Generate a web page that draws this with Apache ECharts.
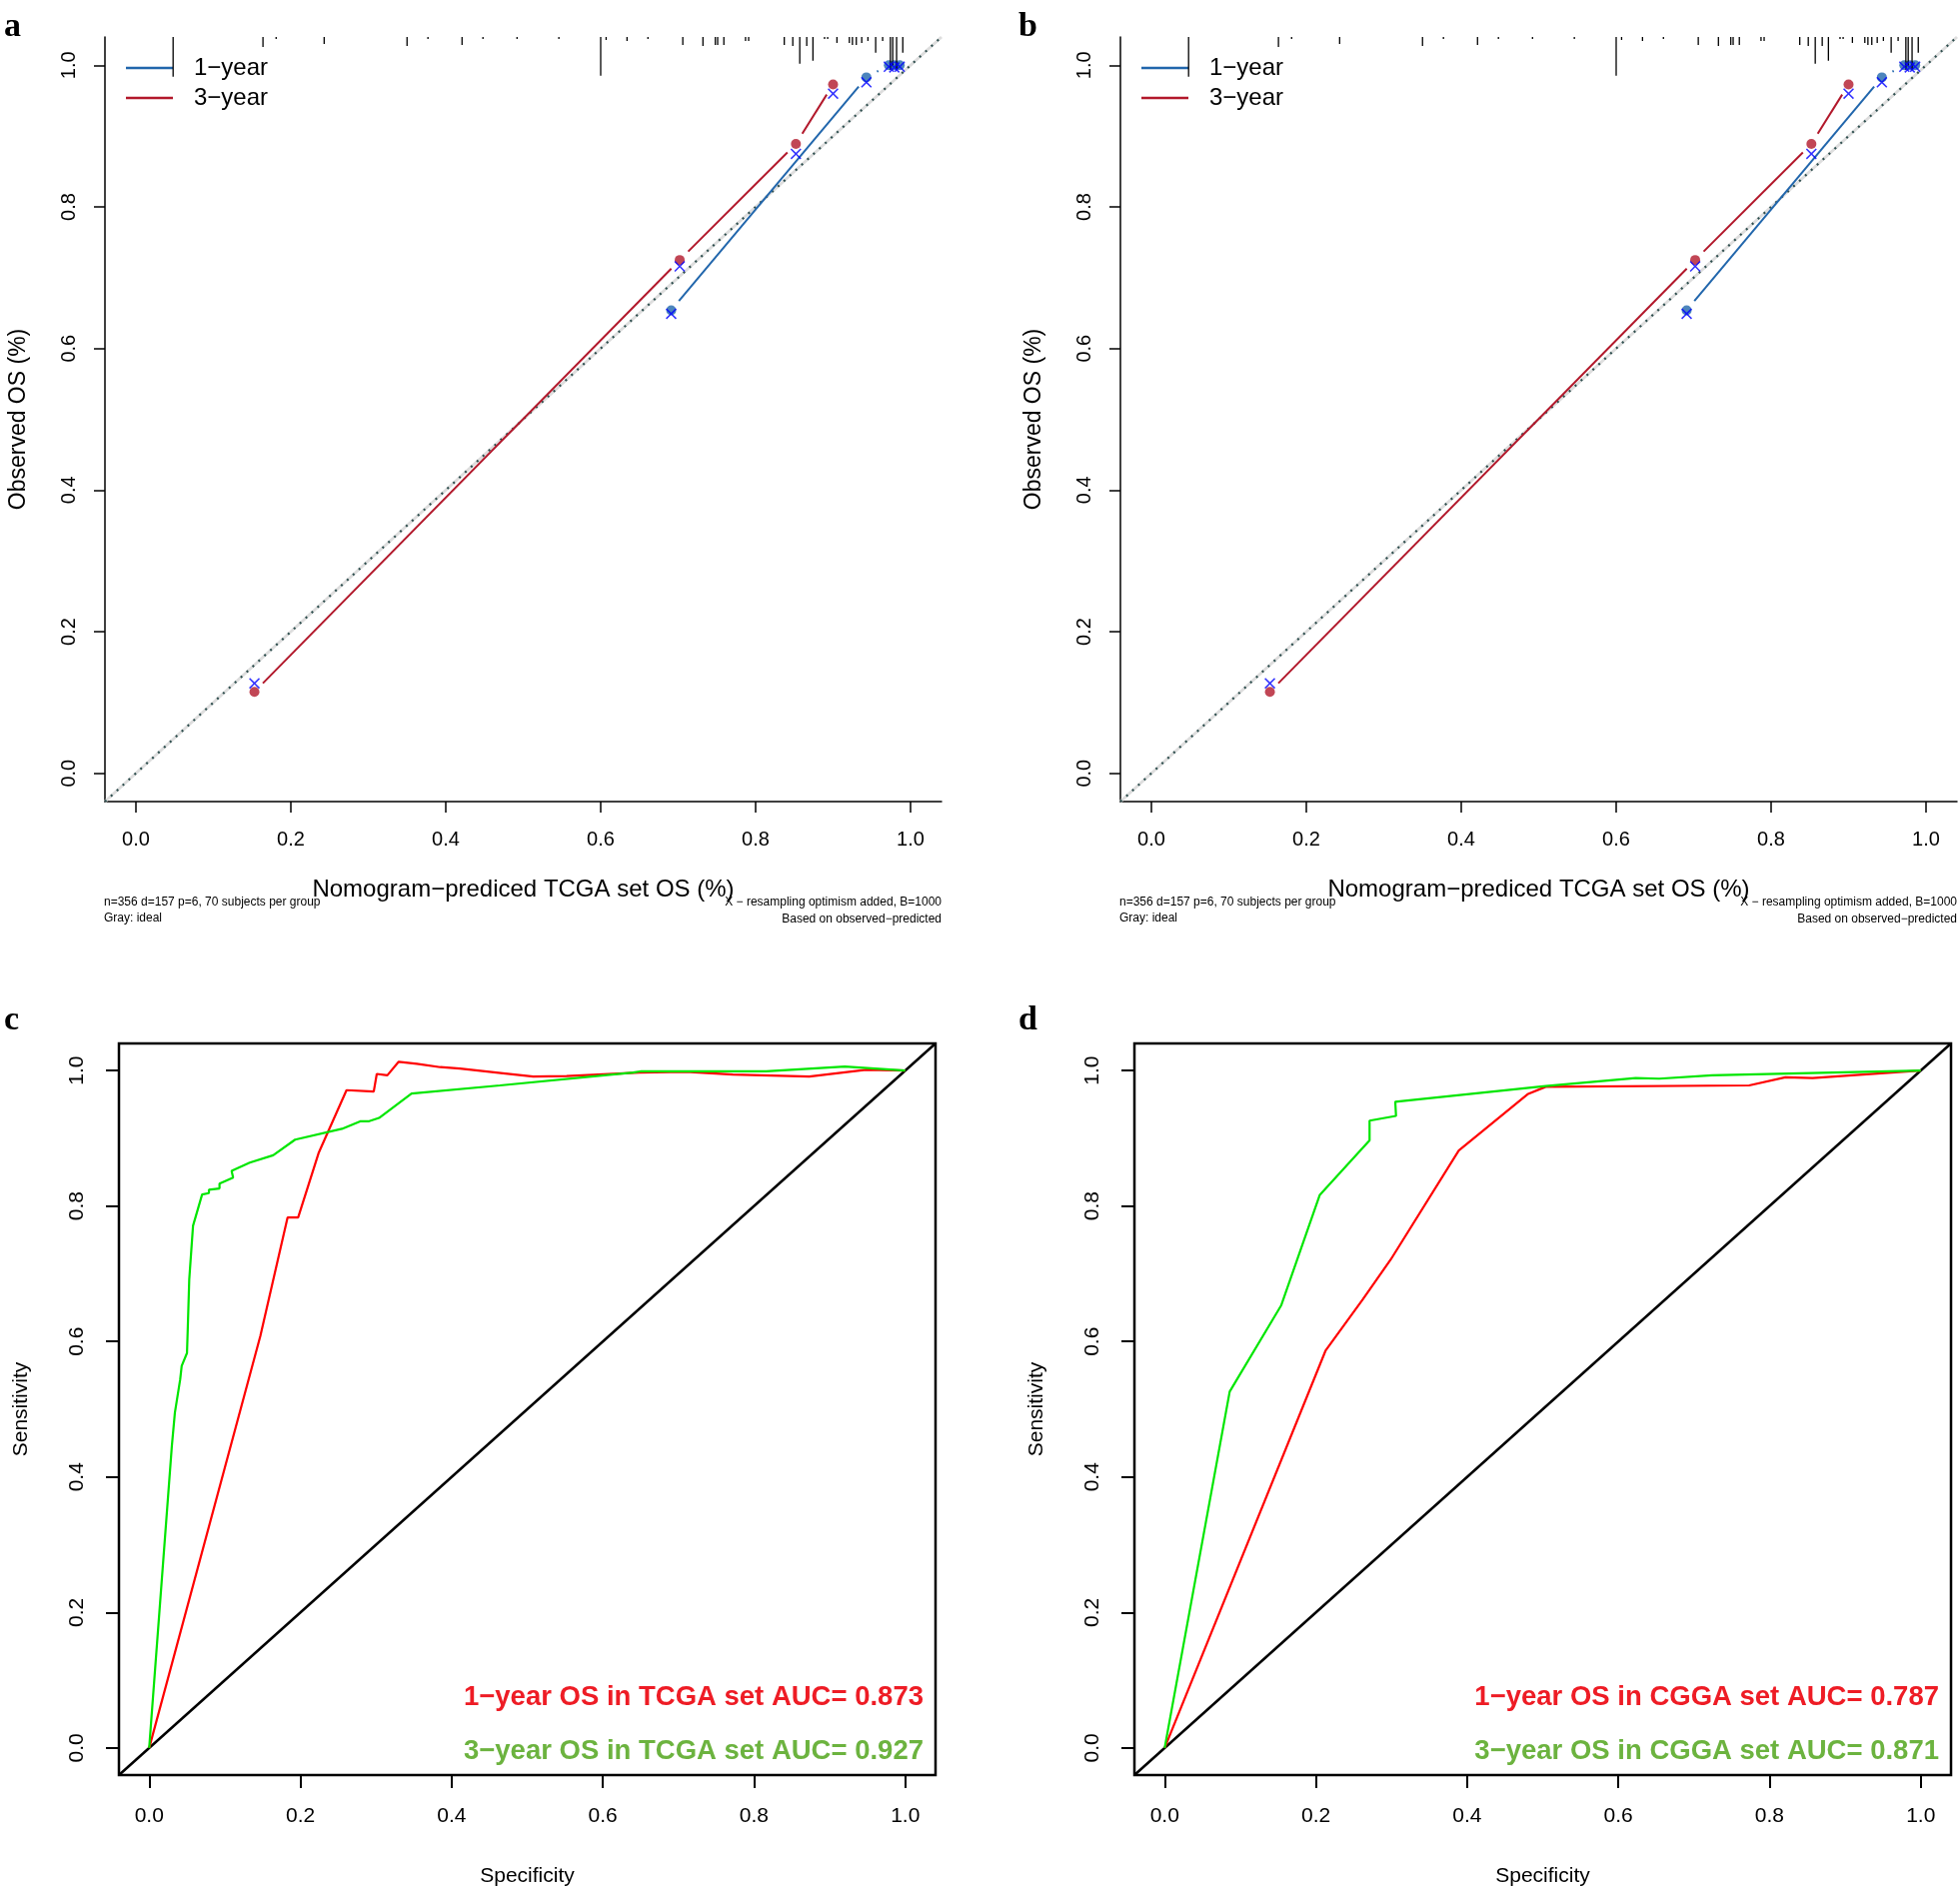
<!DOCTYPE html>
<html>
<head>
<meta charset="utf-8">
<title>Nomogram calibration and ROC</title>
<script src="https://cdn.jsdelivr.net/npm/echarts@6/dist/echarts.min.js"></script>
<style>
html, body { margin: 0; padding: 0; background: #fff; }
#chartArea { width: 1961px; height: 1891px; }
</style>
</head>
<body>
<div id="chartArea"></div>
<script>
const FONT = '"Liberation Sans", Arial, sans-serif';
const AXIS_MIN = -0.04;
const AXIS_MAX = 1.04;
const GAP = 12;         // R type="b" gap round the points, px
const RUG_SPAN = 0.056; // tallest spike, in y units

let tickValues = [0, 0.2, 0.4, 0.6, 0.8, 1.0];
let tickLabels = ['0.0', '0.2', '0.4', '0.6', '0.8', '1.0'];

// calibration, 1-year (blue)
let cal1Pred = [0.691, 0.943, 0.972, 0.979, 0.986];
let cal1Obs = [0.654, 0.983, 1.000, 1.000, 1.000];
let cal1Corr = [0.649, 0.976, 0.998, 0.997, 0.998];
// calibration, 3-year (red)
let cal3Pred = [0.153, 0.702, 0.852, 0.900];
let cal3Obs = [0.115, 0.725, 0.889, 0.973];
let cal3Corr = [0.127, 0.716, 0.875, 0.960];

// spike histogram of predicted values along the top
let rugX = [0.048, 0.164, 0.181, 0.243, 0.350, 0.377, 0.421, 0.448, 0.492, 0.546, 0.600, 0.607,
    0.634, 0.661, 0.706, 0.732, 0.748, 0.751, 0.759, 0.787, 0.791, 0.837, 0.848, 0.857, 0.866,
    0.874, 0.889, 0.893, 0.905, 0.921, 0.925, 0.930, 0.937, 0.945, 0.955, 0.964, 0.974, 0.977,
    0.982, 0.990];
let rugFreq = [40, 10, 2, 7, 9, 2, 8, 2, 2, 2, 39, 3,
    4, 2, 8, 9, 8, 8, 8, 4, 4, 8, 9, 27, 9,
    24, 2, 2, 6, 6, 8, 8, 6, 4, 16, 4, 33, 29,
    33, 16];

// ROC, TCGA
let tcga1X = [0, 0.147, 0.183, 0.197, 0.224, 0.261, 0.297, 0.301, 0.315, 0.330, 0.354, 0.385, 0.411,
    0.468, 0.508, 0.552, 0.649, 0.710, 0.772, 0.873, 0.948, 1.0];
let tcga1Y = [0, 0.608, 0.783, 0.783, 0.878, 0.971, 0.969, 0.995, 0.993, 1.013, 1.010, 1.005, 1.003,
    0.996, 0.991, 0.992, 0.997, 0.998, 0.994, 0.991, 1.001, 1.0];
let tcga3X = [0, 0.030, 0.034, 0.041, 0.043, 0.050, 0.051, 0.053, 0.058, 0.070, 0.079, 0.079, 0.093,
    0.093, 0.111, 0.109, 0.133, 0.164, 0.193, 0.255, 0.279, 0.290, 0.304, 0.347, 0.464, 0.640,
    0.651, 0.816, 0.920, 1.0];
let tcga3Y = [0, 0.446, 0.495, 0.544, 0.564, 0.583, 0.618, 0.692, 0.771, 0.817, 0.819, 0.824, 0.826,
    0.833, 0.842, 0.852, 0.864, 0.875, 0.898, 0.914, 0.925, 0.925, 0.930, 0.966, 0.978, 0.997,
    0.999, 0.999, 1.006, 1.0];
// ROC, CGGA
let cgga1X = [0, 0.213, 0.262, 0.299, 0.389, 0.423, 0.480, 0.504, 0.773, 0.821, 0.857, 1.0];
let cgga1Y = [0, 0.587, 0.662, 0.721, 0.882, 0.913, 0.965, 0.976, 0.978, 0.990, 0.989, 1.0];
let cgga3X = [0, 0.086, 0.154, 0.205, 0.271, 0.271, 0.306, 0.305, 0.504, 0.623, 0.654, 0.724, 1.0];
let cgga3Y = [0, 0.526, 0.653, 0.816, 0.897, 0.926, 0.933, 0.954, 0.977, 0.989, 0.988, 0.993, 1.0];

let aucLabels = [
    ['1−year OS in TCGA set AUC= 0.873', '3−year OS in TCGA set AUC= 0.927'],
    ['1−year OS in CGGA set AUC= 0.787', '3−year OS in CGGA set AUC= 0.871']
];

let blue = '#2166ac';
let red = '#b2182b';
let xMark = 'path://M0,2L2,0L10,8L18,0L20,2L12,10L20,18L18,20L10,12L2,20L0,18L8,10Z';

let myChart = echarts.init(document.getElementById('chartArea'));

function zip(xs, ys) {
    let out = [];
    for (let i = 0; i < xs.length; i++) {
        out.push([xs[i], ys[i]]);
    }
    return out;
}

function segments(xs, ys) {
    let out = [];
    for (let i = 0; i < xs.length - 1; i++) {
        out.push([xs[i], ys[i], xs[i + 1], ys[i + 1]]);
    }
    return out;
}

// line pieces that stop short of the points, like R's type = "b"
function gapSegment(params, api) {
    let p1 = api.coord([api.value(0), api.value(1)]);
    let p2 = api.coord([api.value(2), api.value(3)]);
    let dx = p2[0] - p1[0];
    let dy = p2[1] - p1[1];
    let len = Math.sqrt(dx * dx + dy * dy);
    if (len <= 2 * GAP + 1) {
        return null;
    }
    let ux = dx / len, uy = dy / len;
    return {
        type: 'line',
        shape: {x1: p1[0] + ux * GAP, y1: p1[1] + uy * GAP, x2: p2[0] - ux * GAP, y2: p2[1] - uy * GAP},
        style: {stroke: api.visual('color'), lineWidth: 2}
    };
}

let rugMax = Math.max.apply(null, rugFreq);

function rugSpike(params, api) {
    let x = api.value(0);
    let top = api.coord([x, AXIS_MAX]);
    let bot = api.coord([x, AXIS_MAX - api.value(1) / rugMax * RUG_SPAN]);
    return {
        type: 'line',
        shape: {x1: top[0], y1: top[1], x2: bot[0], y2: bot[1]},
        style: {stroke: '#000', lineWidth: 1.3}
    };
}

function fmtTick(v) {
    for (let i = 0; i < tickValues.length; i++) {
        if (Math.abs(tickValues[i] - v) < 1e-6) return tickLabels[i];
    }
    return '';
}

function valueAxis(g, o) {
    return {
        gridIndex: g,
        type: 'value',
        min: AXIS_MIN,
        max: AXIS_MAX,
        name: o.name,
        nameLocation: 'middle',
        nameGap: o.nameGap,
        nameRotate: o.vertical ? 90 : 0,
        nameTextStyle: {fontSize: o.nameSize, color: '#000', fontFamily: FONT},
        axisLine: {show: true, onZero: false, lineStyle: {color: '#000', width: o.lineWidth}},
        axisTick: {show: true, length: o.tickLen, customValues: tickValues,
            lineStyle: {color: '#000', width: o.lineWidth}},
        axisLabel: {customValues: tickValues, formatter: fmtTick, margin: o.margin,
            rotate: o.vertical ? 90 : 0, fontSize: o.labelSize, color: '#000', fontFamily: FONT},
        splitLine: {show: false}
    };
}

let grids = [];
let xAxes = [];
let yAxes = [];
let series = [];
let legends = [];
let graphics = [];

let calLefts = [105, 1121];
let rocLefts = [119, 1135];

// calibration panels a and b
calLefts.forEach(function (left, k) {
    let g = grids.length;
    grids.push({left: left, top: 37, width: 837, height: 765, outerBoundsMode: 'none', containLabel: false});
    xAxes.push(valueAxis(g, {name: 'Nomogram−prediced TCGA set OS (%)', nameGap: 76, nameSize: 24,
        lineWidth: 1.5, tickLen: 11, margin: 28, labelSize: 20}));
    yAxes.push(valueAxis(g, {name: 'Observed OS (%)', nameGap: 75, nameSize: 23, vertical: true,
        lineWidth: 1.5, tickLen: 11, margin: 26, labelSize: 20}));
    let ax = {xAxisIndex: g, yAxisIndex: g};
    let ideal = [[AXIS_MIN, AXIS_MIN], [AXIS_MAX, AXIS_MAX]];
    series.push(Object.assign({type: 'line', data: ideal, symbol: 'none', silent: true, z: 1,
        lineStyle: {color: '#dedede', width: 3}}, ax));
    series.push(Object.assign({type: 'line', data: ideal, symbol: 'none', silent: true, z: 2,
        lineStyle: {color: '#2f4f4f', width: 2.2, type: [2, 6]}}, ax));
    series.push(Object.assign({type: 'custom', name: '3−year', data: segments(cal3Pred, cal3Obs),
        renderItem: gapSegment, itemStyle: {color: red}, encode: {x: [0, 2], y: [1, 3]}, z: 3}, ax));
    series.push(Object.assign({type: 'custom', name: '1−year', data: segments(cal1Pred, cal1Obs),
        renderItem: gapSegment, itemStyle: {color: blue}, encode: {x: [0, 2], y: [1, 3]}, z: 3}, ax));
    series.push(Object.assign({type: 'scatter', data: zip(cal3Pred, cal3Obs), symbol: 'circle',
        symbolSize: 10, itemStyle: {color: red}, z: 4}, ax));
    series.push(Object.assign({type: 'scatter', data: zip(cal1Pred, cal1Obs), symbol: 'circle',
        symbolSize: 10, itemStyle: {color: blue}, z: 4}, ax));
    series.push(Object.assign({type: 'scatter', data: zip(cal3Pred, cal3Corr).concat(zip(cal1Pred, cal1Corr)),
        symbol: xMark, symbolSize: 11, itemStyle: {color: '#0000ff'}, z: 5}, ax));
    series.push(Object.assign({type: 'custom', data: zip(rugX, rugFreq), renderItem: rugSpike,
        encode: {x: 0}, silent: true, clip: false, z: 5}, ax));
    legends.push({
        left: left + 21, top: 56, padding: 0, orient: 'vertical', icon: 'rect', itemWidth: 47, itemHeight: 2.5,
        itemGap: 6, selectedMode: false, data: ['1−year', '3−year'],
        textStyle: {fontSize: 24, color: '#000', fontFamily: FONT, lineHeight: 24, padding: [0, 0, 0, 16]}
    });
    let small = {fontSize: 12, fill: '#000', fontFamily: FONT};
    graphics.push({type: 'text', left: left - 1, top: 895,
        style: Object.assign({text: 'n=356 d=157 p=6, 70 subjects per group\nGray: ideal', lineHeight: 16}, small)});
    graphics.push({type: 'text', x: left + 837, y: 894,
        style: Object.assign({text: 'X − resampling optimism added, B=1000\nBased on observed−predicted',
            lineHeight: 17, align: 'right'}, small)});
});

// ROC panels c and d
let rocSets = [[tcga1X, tcga1Y, tcga3X, tcga3Y], [cgga1X, cgga1Y, cgga3X, cgga3Y]];
rocLefts.forEach(function (left, k) {
    let g = grids.length;
    grids.push({left: left, top: 1044, width: 817, height: 732, show: true, borderColor: '#000',
        borderWidth: 2.5, backgroundColor: 'transparent', outerBoundsMode: 'none', containLabel: false});
    xAxes.push(valueAxis(g, {name: 'Specificity', nameGap: 91, nameSize: 21,
        lineWidth: 2, tickLen: 13, margin: 31, labelSize: 21}));
    yAxes.push(valueAxis(g, {name: 'Sensitivity', nameGap: 87, nameSize: 21, vertical: true,
        lineWidth: 2, tickLen: 13, margin: 31, labelSize: 21}));
    let ax = {xAxisIndex: g, yAxisIndex: g};
    let d = rocSets[k];
    series.push(Object.assign({type: 'line', data: [[AXIS_MIN, AXIS_MIN], [AXIS_MAX, AXIS_MAX]],
        symbol: 'none', silent: true, lineStyle: {color: '#000', width: 2.5}, z: 2}, ax));
    series.push(Object.assign({type: 'line', data: zip(d[0], d[1]), symbol: 'none', silent: true,
        lineStyle: {color: '#ff0000', width: 2.2}, z: 3}, ax));
    series.push(Object.assign({type: 'line', data: zip(d[2], d[3]), symbol: 'none', silent: true,
        lineStyle: {color: '#00e600', width: 2.2}, z: 4}, ax));
    let bold = {fontSize: 27.5, fontWeight: 'bold', fontFamily: FONT, align: 'right', verticalAlign: 'middle'};
    graphics.push({type: 'text', x: left + 805, y: 1698,
        style: Object.assign({text: aucLabels[k][0], fill: '#ee1c25'}, bold)});
    graphics.push({type: 'text', x: left + 805, y: 1752,
        style: Object.assign({text: aucLabels[k][1], fill: '#6cb33f'}, bold)});
});

// panel letters
let letters = [['a', 4, 10], ['b', 1019, 10], ['c', 4, 1004], ['d', 1019, 1004]];
letters.forEach(function (l) {
    graphics.push({type: 'text', x: l[1], y: l[2], style: {text: l[0], fontSize: 34, fontWeight: 'bold',
        fontFamily: '"Liberation Serif", "Times New Roman", serif', fill: '#000', verticalAlign: 'top'}});
});

let option = {
    backgroundColor: '#fff',
    animation: false,
    grid: grids,
    xAxis: xAxes,
    yAxis: yAxes,
    legend: legends,
    series: series,
    graphic: graphics
};

myChart.setOption(option);
</script>
</body>
</html>
